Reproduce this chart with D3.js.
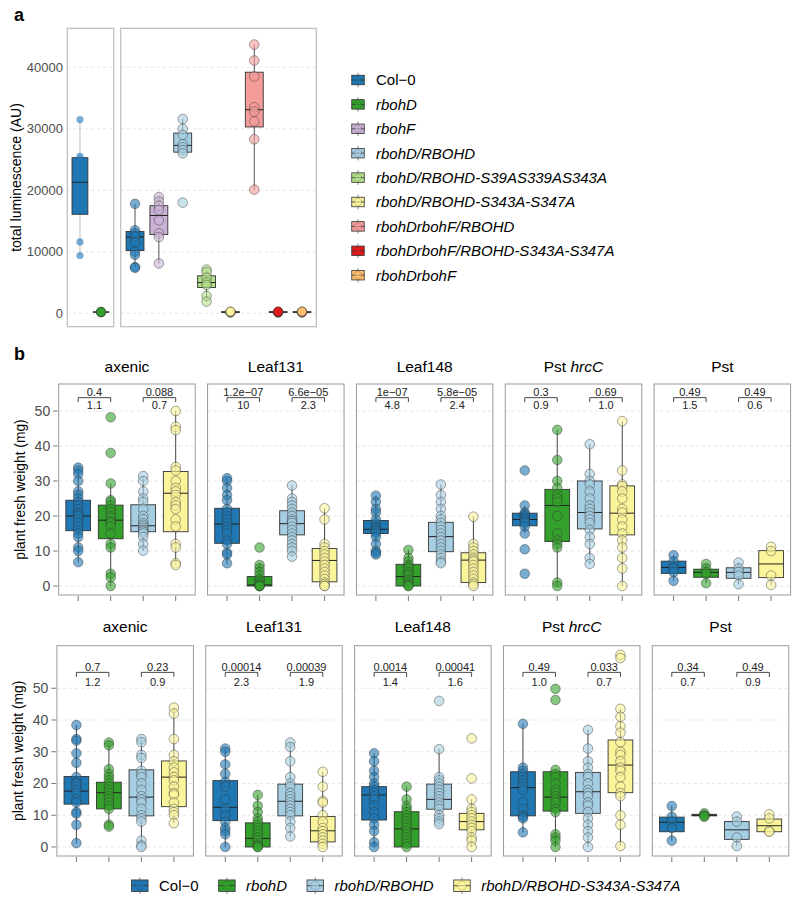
<!DOCTYPE html>
<html><head><meta charset="utf-8">
<script src="https://cdn.jsdelivr.net/npm/d3@7"></script>
<style>body{margin:0;background:#fff;} svg{font-family:"Liberation Sans",Arial,sans-serif;}</style>
</head><body><svg id="chart" width="800" height="902"></svg>
<script>
// ================= DATA =================
// ---- panel a ----
const aGenotypes = ["Col−0","rbohD","rbohF","rbohD/RBOHD","rbohD/RBOHD-S39AS339AS343A","rbohD/RBOHD-S343A-S347A","rbohDrbohF/RBOHD","rbohDrbohF/RBOHD-S343A-S347A","rbohDrbohF"];
const aColors = ["#1F78B4","#33A02C","#CAB2D6","#A6CEE3","#B2DF8A","#FAF49B","#F49C9A","#E31A1C","#FDBF6F"];
const aYTicks = [0,10000,20000,30000,40000];
const aLeftCats = ["Col−0","rbohD"];
// [lower whisker, q1, median, q3, upper whisker]
const aLeftBoxes = [[9400,16100,21300,25300,31500],[150,180,200,220,250]];
const aLeftPoints = [[31500,25500,25000,24700,17600,11600,9400],[150,200,250,200]];
const aRightCats = ["Col−0","rbohF","rbohD/RBOHD","rbohD/RBOHD-S39AS339AS343A","rbohD/RBOHD-S343A-S347A","rbohDrbohF/RBOHD","rbohDrbohF/RBOHD-S343A-S347A","rbohDrbohF"];
const aRightBoxes = [
  [7500,10200,12400,13300,17800],
  [8100,12800,15900,17500,18900],
  [25900,26200,27300,29300,31600],
  [1900,4200,5000,6100,7100],
  [100,150,200,250,300],
  [20100,30300,33100,39200,43700],
  [100,150,200,250,300],
  [100,150,200,250,300]
];
const aRightPoints = [
  [17800,13500,13000,12500,11500,10000,9500,7500,7400],
  [18900,18200,17500,16800,15100,13000,12400,8100],
  [31600,30000,29000,27500,27000,26500,26000,18000],
  [7100,6700,5800,5000,4600,2800,1900],
  [100,150,200,200,250,300],
  [43700,41100,38500,33500,32800,31200,28300,20100],
  [100,150,200,200,250,300],
  [100,150,200,200,250,300]
];

// ---- panel b ----
const bFacets = ["axenic","Leaf131","Leaf148","Pst hrcC","Pst"];
const bGenotypes = ["Col−0","rbohD","rbohD/RBOHD","rbohD/RBOHD-S343A-S347A"];
const bColors = ["#1F78B4","#33A02C","#A6CEE3","#FAF49B"];
const bYTicks = [0,10,20,30,40,50];

const bTopBoxes = [
  [[6.8,15.8,20,24.5,33.8],[0,13.5,18.8,23.1,29.3],[10.1,15.5,17.2,23.2,31.4],[6,15.5,26.5,32.7,50]],
  [[6.2,12.2,17.7,22.2,30.8],[0,0,0.3,2.7,6.5],[8.4,14.6,17.8,21.5,28.7],[0,1.2,7.3,10.7,22.2]],
  [[8.9,15,16.2,18.7,25.8],[0,0,2.7,6.2,10.3],[6.5,9.8,14.1,18.2,29],[0,1,7.4,9.5,19.8]],
  [[15.2,17.2,19,20.8,22.9],[0,12.7,23,27.6,44.6],[6.3,16.3,21,30,40.5],[0,14.6,20.8,28.6,47.1]],
  [[1.5,3.6,5.3,7.1,8.8],[0.8,2.5,3.9,4.8,6.3],[0.5,2.2,3.9,5.2,6.7],[0.3,2.4,6.3,10.1,11.2]]
];
const bTopPoints = [
  [[33.8,33,32,30,27,26,25,24,23,22,21,20.5,20,19,18,17,16,15,14,11,10,6.8],
   [48.2,38,29.3,24.5,24,23,22,21,20,19.5,18.5,18,17,15,12,11,3.5,2.5,0],
   [31.4,30,27,25,24,22,20,19,18,17.5,17,16.5,16,15.8,15.5,15,14,12,10.1],
   [50,45.5,44.5,34,33,30,28,27,26,24,23,22,19,17,12,11,6.5,6]],
  [[30.8,30,28,26,24.5,22,21,20,19,18,17,16,15,13,12,9.5,9,6.5],
   [11,6,5,4,3,2,1.5,1,0.5,0,0,0,0],
   [28.7,25,24,23,22,21,20,19,18.5,18,17,16,15,14,13,12,11,10,8.4],
   [22.2,19,12,11,10,9,8,7,6,5,4,3,2,1,0.5,0,0]],
  [[25.8,24,22,21,19,18,17,16.5,16,15.5,15,14,12,10,9.5,9],
   [10.3,8,7,6,5.5,5,4,3.5,3,2,1.5,1,0.5,0,0],
   [29,26,24,22,20,19,18,17,16,15,14,13,12,11,10,9,8,7,6.5],
   [19.8,12,11,10,9,8,7.5,7,6,5,4,3,2,1,0.5,0]],
  [[33,23,21,20.5,20,19.5,19,18.5,18,17,15,10.5,3.5],
   [44.6,36,30,28,26,25,24,20,15,13,12,11,1,0],
   [40.5,32,30,29,27,25,23,22,21,20,19,18,16,14,12,8,6.3],
   [47.1,33,29,28.5,27,25,22,21,19,17,15,13,11,8,5,0]],
  [[8.8,7,5.5,5,4,1.5],[6.3,5,4,3.5,0.8],[6.7,5,4,3,0.5],[11.2,10,3,0.3]]
];
const bTopPvals = [["0.4","0.088"],["1.2e−07","6.6e−05"],["1e−07","5.8e−05"],["0.3","0.69"],["0.49","0.49"]];
const bTopRatios = [["1.1","0.7"],["10","2.3"],["4.8","2.4"],["0.9","1.0"],["1.5","0.6"]];

const bBotBoxes = [
  [[1.2,13.5,17.6,22.2,38.4],[6.4,12,17.1,20.4,32.9],[0,9.8,15.7,24.3,34],[7.5,12.7,22,27.1,43.9]],
  [[0,8.3,12.5,20.9,31],[0,0,2.7,7.6,16.4],[3.3,9.8,14.4,19.8,32.9],[0,1.6,5.1,9.6,23.7]],
  [[0,8.5,16.4,19,29.5],[0,0,5.7,11.1,19],[7.2,11.9,15,19.8,30.8],[0,5.4,8,10.6,15]],
  [[4.6,9.8,18.7,23.7,38.8],[0,11.3,15.7,23.7,24.3],[0,10.6,17.4,23.5,36.9],[0.3,17.1,25.8,33.7,43.5]],
  [[2,4.8,7.8,9.4,12.9],[9.7,9.8,10,10.3,10.6],[0.3,2.4,5.4,8,9.6],[4.8,4.8,6.7,8.8,10.3]]
];
const bBotPoints = [
  [[38.4,34,33.5,29.5,26.5,22,20.5,20,19,18,17,15,14,11,10.5,7,1.2],
   [32.9,32,24.5,23,22,21,20,19,18,17,16,15,14,13,12,7,6.4],
   [34,33,29,28,24,23,22,20,18,16,15,14,12,10,9,8,2,0.5,0],
   [43.9,42,34,29,27,25,23.5,22,21,19,17,16.5,14,12,11,10,7.5]],
  [[31,30,26,23,20.5,19,15,12,10,8,6,5,4,0],
   [16.4,13,11,9,8,7,6,5,4,3,2,1,0.5,0,0],
   [32.9,31.5,27,22,20,19,17,16,15,14,13,12,11,10,8,6,3.3],
   [23.7,19,14.5,14,10,8,6,5,4,3,2,1,0]],
  [[29.5,27,24,22,20,19,18,17,16,15,13,11,9,7,5,1.5,0],
   [19,15,13,12,11,10,9,8,7,6,5,4,3,2,1,0],
   [46,30.8,22,21,20,19,18,17,16,15,14,13,12,10,9,8,7.2],
   [34.2,21.6,15,12,11,10,9,8,7,6,5,3,2,0]],
  [[38.8,25,24,23,22,21,20,19,18,14,12,10,9.5,9,4.6],
   [49.8,46.3,24.3,23,22,20,18,17,16,15,14,12,11,4,3,2,0],
   [36.9,31,27,25,23,22,20,18,17,16,14,13,11,9,7,5,3,0],
   [60.5,59.5,43.5,41,38,36,33,30,29,27,25,24,22,19,17,16,10,7,0.3]],
  [[12.9,9.5,8,6,2],[10.6,10,9.8,9.5],[9.6,8,3,0.3],[10.3,9,5,4.8]]
];
const bBotPvals = [["0.7","0.23"],["0.00014","0.00039"],["0.0014","0.00041"],["0.49","0.033"],["0.34","0.49"]];
const bBotRatios = [["1.2","0.9"],["2.3","1.9"],["1.4","1.6"],["1.0","0.7"],["0.7","0.9"]];

// ================= DRAWING =================
const svg = d3.select("#chart");
const GRID = "#dedede", BORDER = "#9a9a9a", TICKTXT = "#4d4d4d";

function drawBox(g, x, w, s, color, opt) {
  const [lo,q1,md,q3,hi] = s.map(opt.y);
  g.append("line").attr("x1",x).attr("x2",x).attr("y1",lo).attr("y2",hi)
    .attr("stroke",opt.whisker||"#444").attr("stroke-width",1);
  g.append("rect").attr("x",x-w/2).attr("y",q3).attr("width",w).attr("height",Math.max(0,q1-q3))
    .attr("fill",color).attr("stroke","#333").attr("stroke-width",0.9);
  g.append("line").attr("x1",x-w/2).attr("x2",x+w/2).attr("y1",md).attr("y2",md)
    .attr("stroke","#222").attr("stroke-width",1);
}
function drawPoints(g, x, vals, color, opt) {
  g.selectAll(null).data(vals).enter().append("circle")
    .attr("cx",x).attr("cy",d=>opt.y(d)).attr("r",opt.r)
    .attr("fill",color).attr("fill-opacity",opt.fo==null?0.6:opt.fo)
    .attr("stroke",opt.stroke||"#333").attr("stroke-opacity",opt.so==null?0.55:opt.so)
    .attr("stroke-width",0.8);
}
function italicLabel(t){ return t !== "Col−0"; }
function keyIcon(g, cx, cy, w, h, color) {
  g.append("line").attr("x1",cx).attr("x2",cx).attr("y1",cy-h/2-2.5).attr("y2",cy+h/2+2.5).attr("stroke","#666").attr("stroke-width",0.8);
  g.append("rect").attr("x",cx-w/2).attr("y",cy-h/2).attr("width",w).attr("height",h).attr("fill",color).attr("stroke","#333").attr("stroke-width",0.8);
  g.append("line").attr("x1",cx-w/2).attr("x2",cx+w/2).attr("y1",cy).attr("y2",cy).attr("stroke","#333").attr("stroke-width",0.8);
  g.append("circle").attr("cx",cx).attr("cy",cy).attr("r",h*0.38).attr("fill",color).attr("fill-opacity",0.6).attr("stroke","#333").attr("stroke-opacity",0.5).attr("stroke-width",0.7).attr("stroke-dasharray","1.5,1");
}

// ---------- Panel a ----------
svg.append("text").attr("x",14).attr("y",21).attr("font-size",18).attr("font-weight","bold").text("a");
const aTop = 28.3, aBot = 326.7;
const yA = d3.scaleLinear().domain([-2180,46340]).range([aBot,aTop]);
const colorA = d3.scaleOrdinal().domain(aGenotypes).range(aColors);

function aPanel(x0, x1, cats, boxes, points, ptR, noStroke, whisker) {
  const g = svg.append("g");
  g.selectAll(null).data(aYTicks).enter().append("line")
    .attr("x1",x0).attr("x2",x1).attr("y1",d=>yA(d)).attr("y2",d=>yA(d))
    .attr("stroke",GRID).attr("stroke-width",0.8).attr("stroke-dasharray","3,3");
  const xs = d3.scalePoint().domain(cats).range([x0,x1]).padding(0.6);
  const w = xs.step()*0.75;
  cats.forEach((c,i)=>{
    drawBox(g, xs(c), w, boxes[i], colorA(c), {y:yA, whisker});
    drawPoints(g, xs(c), points[i], colorA(c), {y:yA, r: boxes[i][4]-boxes[i][0] < 1000 ? 4.6 : ptR,
      so: noStroke && boxes[i][4]-boxes[i][0] >= 1000 ? 0 : 0.55});
  });
  g.append("rect").attr("x",x0).attr("y",aTop).attr("width",x1-x0).attr("height",aBot-aTop)
    .attr("fill","none").attr("stroke","#bdbdbd").attr("stroke-width",1.2);
}
aPanel(67.3, 113.7, aLeftCats, aLeftBoxes, aLeftPoints, 3.6, true, "#bbbbbb");
aPanel(120.7, 316.3, aRightCats, aRightBoxes, aRightPoints, 4.8, false, "#555");

// a y axis
const aAx = svg.append("g");
aAx.selectAll(null).data(aYTicks).enter().append("text")
  .attr("x",63).attr("y",d=>yA(d)+4.5).attr("text-anchor","end")
  .attr("font-size",13).attr("fill",TICKTXT).text(d=>d);
aAx.append("text").attr("transform",`translate(21,${(aTop+aBot)/2}) rotate(-90)`)
  .attr("text-anchor","middle").attr("font-size",14).text("total luminescence (AU)");

// a legend
const aLeg = svg.append("g");
aGenotypes.forEach((gname,i)=>{
  const cy = 80 + i*24.4;
  keyIcon(aLeg, 358, cy, 12.5, 9.5, aColors[i]);
  aLeg.append("text").attr("x",376).attr("y",cy+5.3).attr("font-size",15)
    .attr("font-style", italicLabel(gname)?"italic":"normal").text(gname);
});

// ---------- Panel b ----------
svg.append("text").attr("x",14).attr("y",360).attr("font-size",18).attr("font-weight","bold").text("b");
const colorB = d3.scaleOrdinal().domain(bGenotypes).range(bColors);

function bRow(cfg) {
  const y = d3.scaleLinear().domain(cfg.domain).range([cfg.bot, cfg.top]);
  const pw = 136.5, pstep = 148.85;
  bFacets.forEach((f,fi)=>{
    const x0 = cfg.left + fi*pstep, x1 = x0 + pw;
    const g = svg.append("g");
    // strip title
    const t = g.append("text").attr("x",(x0+x1)/2).attr("y",cfg.titleY).attr("text-anchor","middle").attr("font-size",15.5);
    if (f === "Pst hrcC") { t.append("tspan").text("Pst "); t.append("tspan").attr("font-style","italic").text("hrcC"); }
    else t.text(f);
    // grid
    g.selectAll(null).data(bYTicks).enter().append("line")
      .attr("x1",x0).attr("x2",x1).attr("y1",d=>y(d)).attr("y2",d=>y(d))
      .attr("stroke",GRID).attr("stroke-width",0.8).attr("stroke-dasharray","3,3");
    const xs = d3.scalePoint().domain(bGenotypes).range([x0,x1]).padding(0.6);
    const w = xs.step()*0.76;
    bGenotypes.forEach((gn,gi)=>{
      drawBox(g, xs(gn), w, cfg.boxes[fi][gi], colorB(gn), {y});
      drawPoints(g, xs(gn), cfg.points[fi][gi], colorB(gn), {y, r:4.8});
      // x tick
      g.append("line").attr("x1",xs(gn)).attr("x2",xs(gn)).attr("y1",cfg.bot+1).attr("y2",cfg.bot+6)
        .attr("stroke","#666").attr("stroke-width",0.9);
    });
    // brackets
    [[0,1],[2,3]].forEach((pair,pi)=>{
      const xa = xs(bGenotypes[pair[0]]), xb = xs(bGenotypes[pair[1]]);
      const ly = y(cfg.bracket);
      g.append("path").attr("d",`M${xa},${ly+4.5}V${ly}H${xb}V${ly+4.5}`)
        .attr("fill","none").attr("stroke","#333").attr("stroke-width",0.9);
      g.append("text").attr("x",(xa+xb)/2).attr("y",ly-1.8).attr("text-anchor","middle")
        .attr("font-size",11).attr("fill","#222").text(cfg.pvals[fi][pi]);
      g.append("text").attr("x",(xa+xb)/2).attr("y",ly+cfg.lowOff).attr("text-anchor","middle")
        .attr("font-size",11).attr("fill","#222").text(cfg.ratios[fi][pi]);
    });
    g.append("rect").attr("x",x0).attr("y",cfg.top).attr("width",pw).attr("height",cfg.bot-cfg.top)
      .attr("fill","none").attr("stroke",BORDER).attr("stroke-width",1);
  });
  // y axis
  const ax = svg.append("g");
  ax.selectAll(null).data(bYTicks).enter().append("line")
    .attr("x1",cfg.left-5.5).attr("x2",cfg.left-1).attr("y1",d=>y(d)).attr("y2",d=>y(d))
    .attr("stroke","#666").attr("stroke-width",0.9);
  ax.selectAll(null).data(bYTicks).enter().append("text")
    .attr("x",cfg.left-8.5).attr("y",d=>y(d)+5).attr("text-anchor","end")
    .attr("font-size",14).attr("fill",TICKTXT).text(d=>d);
  ax.append("text").attr("transform",`translate(${cfg.left-34},${(cfg.top+cfg.bot)/2}) rotate(-90)`)
    .attr("text-anchor","middle").attr("font-size",13.8).text("plant fresh weight (mg)");
}

bRow({left:58.7, top:384, bot:595, domain:[-2.57,57.7], titleY:372, bracket:53.8, lowOff:11.8,
      boxes:bTopBoxes, points:bTopPoints, pvals:bTopPvals, ratios:bTopRatios});
bRow({left:56.9, top:645.7, bot:856, domain:[-2.84,63.4], titleY:632, bracket:55, lowOff:13.5,
      boxes:bBotBoxes, points:bBotPoints, pvals:bBotPvals, ratios:bBotRatios});

// bottom legend
const bLeg = svg.append("g");
let cx = 131.5;
const legY = 885.7;
bGenotypes.forEach((gn,i)=>{
  keyIcon(bLeg, cx+8.3, legY, 16.5, 11.5, bColors[i]);
  const t = bLeg.append("text").attr("x",cx+27.5).attr("y",legY+5.5).attr("font-size",15)
    .attr("font-style", italicLabel(gn)?"italic":"normal").text(gn);
  cx += 27.5 + t.node().getComputedTextLength() + 20;
});
</script></body></html>
